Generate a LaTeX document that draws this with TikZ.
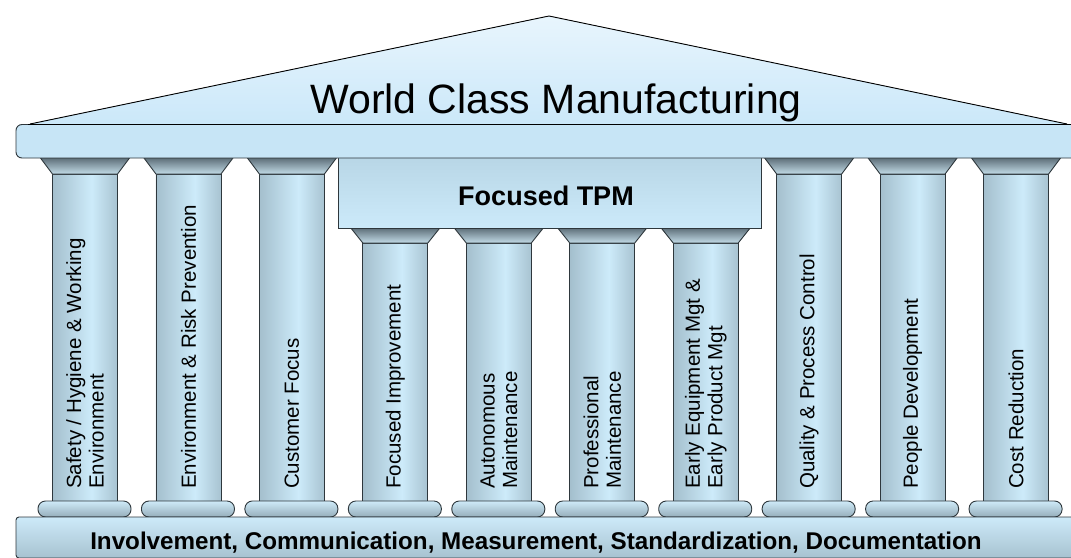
\documentclass[tikz,border=0pt]{standalone}
\usepackage{fontspec}
\setmainfont{Liberation Sans}
\definecolor{shE}{HTML}{A4BFCD}
\definecolor{shM}{HTML}{CDEBFA}
\definecolor{shR}{HTML}{A8C3D1}
\definecolor{lineC}{HTML}{2E373C}
\definecolor{capT}{HTML}{5E6F79}
\definecolor{capB}{HTML}{C3DCE8}
\definecolor{baseT}{HTML}{CFEBF9}
\definecolor{baseB}{HTML}{95ADBA}
\definecolor{beamC}{HTML}{C7E5F6}
\definecolor{roofT}{HTML}{E8F5FD}
\definecolor{roofB}{HTML}{CBE8F9}
\definecolor{tpmT}{HTML}{B8D6E6}
\definecolor{tpmB}{HTML}{CCEAFA}
\definecolor{bandT}{HTML}{CDEAF9}
\definecolor{bandB}{HTML}{A7C2D0}
\pgfdeclarehorizontalshading{shaftsh}{100bp}{color(0bp)=(shE); color(25bp)=(shE); color(55bp)=(shM); color(75bp)=(shR); color(100bp)=(shR)}
\begin{document}
\begin{tikzpicture}[x=1pt,y=-1pt,
  shaft/.style={draw=lineC, line width=0.9pt, shading=shaftsh},
  capital/.style={draw=lineC, line width=0.9pt, top color=capT, bottom color=capB},
  basepill/.style={draw=lineC, line width=0.9pt, rounded corners=7.5pt, top color=baseT, bottom color=baseB},
  lbl/.style={rotate=90, anchor=west, inner sep=0pt, align=left, font=\fontsize{20.5}{22.5}\selectfont}]
\clip (0,0) rectangle (1071,557);
\fill[white] (0,0) rectangle (1071,557);
% pillars
\foreach \i/\t/\h in {0/158/16,1/158/16,2/158/16,3/228/15,4/228/15,5/228/15,6/228/15,7/158/16,8/158/16,9/158/16}{
  \pgfmathsetmacro\c{85+103.45*\i}
  \draw[shaft] (\c-32.5,\t+\h) rectangle (\c+32.5,501);
  \draw[capital] (\c-44.5,\t) -- (\c+44.5,\t) -- (\c+32.5,\t+\h) -- (\c-32.5,\t+\h) -- cycle;
  \draw[basepill] (\c-47,501) rectangle (\c+46,517);
}
% foundation
\draw[draw=lineC, line width=0.9pt, top color=bandT, bottom color=bandB, rounded corners=3pt] (16,517) rectangle (1090,558);
% TPM box
\draw[draw=lineC, line width=0.9pt, top color=tpmT, bottom color=tpmB] (338,157) rectangle (761,228);
% beam
\draw[draw=lineC, line width=0.9pt, fill=beamC, rounded corners=6pt] (16,124.5) rectangle (1090,158);
% roof
\fill[top color=roofT, bottom color=roofB] (30,124) -- (549,16) -- (1067,124) -- cycle;
\draw[line width=0.9pt] (30,124) -- (549,16) -- (1067,124);
\draw[line width=1.5pt] (28,124.5) -- (1071,124.5);
% texts
\node[font=\fontsize{41}{45}\selectfont, anchor=base, inner sep=0pt] (title) at (556,113) {World Class Manufacturing};
\node[font=\bfseries\fontsize{27}{31}\selectfont, anchor=base, inner sep=0pt] (tpm) at (546,205) {Focused TPM};
\node[font=\bfseries\fontsize{24.2}{28}\selectfont, anchor=base, inner sep=0pt] (found) at (536,549) {Involvement, Communication, Measurement, Standardization, Documentation};
\node[lbl] (l0) at (85,489) {Safety / Hygiene \& Working\\Environment};
\node[lbl] (l1) at (188.45,489) {Environment \& Risk Prevention};
\node[lbl] (l2) at (291.9,489) {Customer Focus};
\node[lbl] (l3) at (395.35,489) {Focused Improvement};
\node[lbl] (l4) at (498.8,489) {Autonomous\\Maintenance};
\node[lbl] (l5) at (602.25,489) {Professional\\Maintenance};
\node[lbl] (l6) at (705.7,489) {Early Equipment Mgt \&\\Early Product Mgt};
\node[lbl] (l7) at (809.15,489) {Quality \& Process Control};
\node[lbl] (l8) at (912.6,489) {People Development};
\node[lbl] (l9) at (1016.05,489) {Cost Reduction};
\end{tikzpicture}
\end{document}
